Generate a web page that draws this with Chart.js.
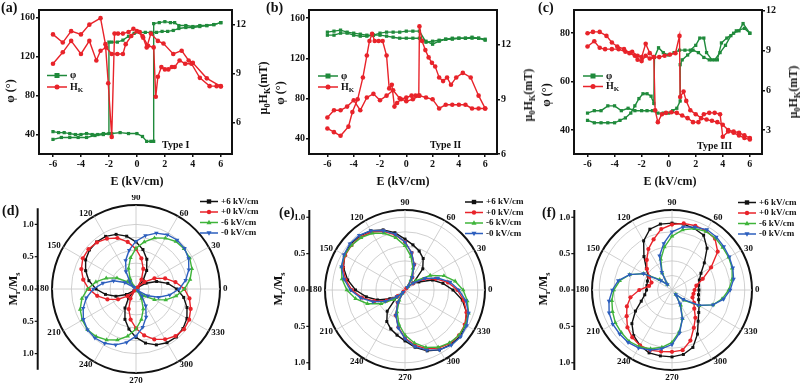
<!DOCTYPE html>
<html>
<head>
<meta charset="utf-8">
<script src="https://cdn.jsdelivr.net/npm/chart.js@4.4.0/dist/chart.umd.min.js"></script>
<style>
  body { margin: 0; background: #fff; }
  #fig { position: relative; width: 800px; height: 383px; overflow: hidden;
         font-family: "Liberation Serif", "Times New Roman", serif; font-weight: bold; color: #111; }
  canvas { position: absolute; }
  .lbl { position: absolute; white-space: nowrap; line-height: 1; }
  .rot { transform: translate(-50%, -50%) rotate(-90deg); }
  .ctr { transform: translate(-50%, -50%); }
  .pan { font-size: 14px; }
  .ttl { font-size: 12px; }
  .typ { font-size: 10px; }
  sub { font-size: 70%; vertical-align: -0.3em; line-height: 0; }
</style>
</head>
<body>
<div id="fig">
  <canvas id="ca" width="268" height="196" style="left:0;top:0"></canvas>
  <canvas id="cb" width="265" height="196" style="left:268px;top:0"></canvas>
  <canvas id="cc" width="267" height="196" style="left:533px;top:0"></canvas>
  <canvas id="cd" width="265" height="188" style="left:0;top:195px"></canvas>
  <canvas id="ce" width="265" height="188" style="left:268px;top:195px"></canvas>
  <canvas id="cf" width="267" height="188" style="left:533px;top:195px"></canvas>

  <div class="lbl pan" style="left:1px;top:1px">(a)</div>
  <div class="lbl pan" style="left:266px;top:1px">(b)</div>
  <div class="lbl pan" style="left:538px;top:1px">(c)</div>
  <div class="lbl pan" style="left:2px;top:204px">(d)</div>
  <div class="lbl pan" style="left:279px;top:206px">(e)</div>
  <div class="lbl pan" style="left:542px;top:206px">(f)</div>

  <div class="lbl ttl ctr" style="left:137px;top:181px">E (kV/cm)</div>
  <div class="lbl ttl ctr" style="left:403px;top:181px">E (kV/cm)</div>
  <div class="lbl ttl ctr" style="left:670px;top:181px">E (kV/cm)</div>

  <div class="lbl ttl rot" style="left:10px;top:91px">φ (°)</div>
  <div class="lbl ttl rot" style="left:280px;top:93px">φ (°)</div>
  <div class="lbl ttl rot" style="left:546px;top:95px">φ (°)</div>

  <div class="lbl ttl rot" style="left:263px;top:88px">μ<sub>0</sub>H<sub>K</sub>(mT)</div>
  <div class="lbl ttl rot" style="left:528px;top:95px">μ<sub>0</sub>H<sub>K</sub>(mT)</div>
  <div class="lbl ttl rot" style="left:793px;top:92px">μ<sub>0</sub>H<sub>K</sub>(mT)</div>

  <div class="lbl ttl rot" style="left:13px;top:289px">M<sub>r</sub>/M<sub>s</sub></div>
  <div class="lbl ttl rot" style="left:278px;top:289px">M<sub>r</sub>/M<sub>s</sub></div>
  <div class="lbl ttl rot" style="left:543px;top:289px">M<sub>r</sub>/M<sub>s</sub></div>

  <div class="lbl typ" style="left:162px;top:140px">Type I</div>
  <div class="lbl typ" style="left:430px;top:140px">Type II</div>
  <div class="lbl typ" style="left:697px;top:141px">Type III</div>
</div>

<script>
// ---- top row: E sweeps (kV/cm), easy axis angle phi (deg), anisotropy field HK (mT) ----
const aPhiDownE = [6, 5.5, 5, 4.5, 4, 3.5, 3, 2.6, 2.2, 1.8, 1.4, 1, 0.6, 0.2, -0.2, -0.6, -1, -1.4, -1.8, -2, -2, -2.4, -2.8, -3.2, -3.6, -4, -4.4, -4.8, -5.2, -5.6, -6];
const aPhiDown = [155, 153, 152, 151, 150, 150, 149, 147, 146, 146, 145, 145, 145, 145, 144, 141, 137, 135, 135, 135, 41, 41, 40, 40, 41, 40, 40, 41, 42, 42, 43];
const aPhiUpE = [-6, -5.4, -4.8, -4.2, -3.6, -3, -2.4, -1.8, -1.2, -0.6, 0, 0.4, 0.7, 1, 1.2, 1.2, 1.6, 2, 2.4, 2.7, 3, 3.5, 4, 4.5, 5, 5.5, 6];
const aPhiUp = [35, 37, 37, 37, 37, 39, 40, 41, 42, 41, 41, 38, 33, 33, 33, 154, 155, 156, 155, 155, 152, 152, 151, 152, 152, 153, 155];
const aHkDownE = [6, 5, 4, 3.7, 3.2, 2.6, 1.9, 1.5, 1, 0.7, 0.45, 0.2, -0.25, -0.6, -1, -1.35, -1.6, -1.8, -2.05, -2.25, -2.6, -3.4, -4, -4.7, -5.3, -6];
const aHkDown = [8.2, 8.7, 9.65, 9.8, 10.4, 10.2, 10.84, 11.0, 11.45, 10.6, 11.2, 11.55, 11.75, 11.55, 11.45, 11.45, 11.45, 5.1, 8.4, 10.8, 12.4, 12.0, 11.4, 11.6, 10.9, 11.4];
const aHkUpE = [-6, -5.3, -4.7, -4, -3.4, -2.9, -2.6, -2.2, -1.8, -1.4, -1, -0.8, -0.4, 0, 0.4, 0.8, 1.2, 1.35, 1.5, 1.75, 2, 2.25, 2.5, 2.7, 3.05, 3.45, 3.9, 4.5, 5.2, 5.7, 6];
const aHkUp = [9.6, 10.3, 11.0, 10.2, 11.0, 9.8, 10.4, 10.6, 10.2, 10.2, 10.2, 10.8, 11.3, 11.6, 11.3, 10.7, 10.6, 7.57, 8.8, 9.4, 9.25, 9.25, 9.4, 9.4, 9.8, 9.6, 9.6, 8.73, 8.22, 8.22, 8.22];

const bPhiUpE = [-6, -5.5, -5, -4.5, -4, -3.5, -3, -2.5, -2, -1.5, -1, -0.5, 0, 0.5, 1, 1.5, 2, 2.5, 3, 3.5, 4, 4.5, 5, 5.5, 6];
const bPhiUp = [146, 147, 148, 146, 145, 144, 143, 143, 143, 142, 141, 140, 140, 140, 140, 137, 134, 137, 139, 140, 140, 140, 141, 140, 138];
const bPhiDownE = [6, 5.5, 5, 4.5, 4, 3.5, 3, 2.5, 2, 1.5, 1, 0.5, 0, -0.5, -1, -1.5, -2, -2.5, -3, -3.5, -4, -4.5, -5, -5.5, -6];
const bPhiDown = [139, 140, 140, 140, 140, 139, 139, 138, 137, 136, 147, 147, 147, 146, 146, 146, 145, 143, 142, 142, 143, 145, 145, 143, 143];
const bHkUpE = [-6, -5.5, -5, -4.4, -4.1, -3.7, -3.3, -3.0, -2.8, -2.6, -2.4, -2.1, -1.8, -1.5, -1.3, -1.1, -0.9, -0.7, -0.4, 0, 0.4, 0.7, 0.95, 1.0, 1.2, 1.45, 1.7, 1.95, 2.2, 2.5, 2.8, 3.1, 3.4, 3.8, 4.3, 4.9, 5.5, 6];
const bHkUp = [7.4, 7.2, 7.0, 7.5, 8.3, 9.0, 10.2, 11.4, 12.2, 12.6, 12.2, 12.2, 12.2, 11.4, 9.6, 9.8, 8.6, 8.8, 9.0, 9.1, 9.2, 9.2, 9.2, 13.0, 12.2, 11.7, 11.3, 11.0, 10.8, 10.2, 10.0, 10.2, 9.8, 10.2, 10.45, 10.2, 9.2, 8.5];
const bHkDownE = [6, 5.5, 5, 4.5, 4, 3.5, 3, 2.5, 2, 1.5, 1, 0.5, 0, -0.5, -1, -1.5, -2, -2.5, -3, -3.5, -4, -4.5, -5, -5.5, -6];
const bHkDown = [8.5, 8.5, 8.5, 8.7, 8.7, 8.7, 8.7, 8.5, 9.0, 9.1, 9.2, 9.0, 8.9, 9.05, 9.5, 9.2, 8.95, 9.3, 9.1, 8.4, 8.95, 8.6, 8.4, 8.4, 8.0];

const cPhiUpE = [-6, -5.5, -5, -4.5, -4, -3.6, -3.2, -2.8, -2.5, -2.2, -1.9, -1.6, -1.3, -1.1, -1.05, -0.75, -0.4, 0, 0.4, 0.8, 1.2, 1.6, 2.0, 2.3, 2.6, 2.8, 3.2, 3.6, 3.9, 4.3, 4.8, 5.2, 5.5, 6];
const cPhiUp = [44, 43, 43, 43, 43, 44, 45, 47, 50, 53, 55, 55, 54, 51, 70, 74, 72, 71, 72, 73, 73, 73, 75, 78, 78, 72, 69, 69, 76, 78, 80, 81, 84, 80];
const cPhiDownE = [6, 5.6, 5, 4.6, 4.2, 3.8, 3.4, 3.0, 2.6, 2.2, 1.8, 1.4, 1.0, 0.85, 0.85, 0.6, 0.3, 0, -0.4, -0.8, -1.2, -1.6, -2, -2.5, -3, -3.5, -4, -4.5, -5, -5.5, -6];
const cPhiDown = [80, 82, 81, 79, 75, 72, 69, 69, 70, 72, 73, 71, 69, 67, 52, 49, 48, 47, 47, 47, 48, 48, 48, 48, 49, 48, 50, 50, 48, 48, 47];
const cHkUpE = [-6, -5.6, -5.1, -4.6, -4.2, -3.8, -3.3, -2.9, -2.5, -2.3, -2.0, -1.7, -1.4, -1.1, -0.7, -0.3, 0.1, 0.5, 0.8, 0.85, 1.1, 1.3, 1.6, 2.0, 2.4, 2.8, 3.2, 3.6, 4.0, 4.4, 4.8, 5.2, 5.6, 6];
const cHkUp = [10.3, 10.4, 10.4, 10.1, 9.6, 9.3, 9.1, 8.8, 8.6, 8.3, 8.2, 8.6, 8.4, 8.5, 8.5, 8.6, 8.7, 8.8, 10.1, 5.5, 5.9, 5.2, 4.5, 4.2, 3.9, 3.8, 3.7, 3.6, 3.4, 3.0, 2.9, 2.8, 2.6, 2.4];
const cHkDownE = [6, 5.6, 5.2, 4.8, 4.4, 4.0, 3.8, 3.4, 3.0, 2.6, 2.2, 1.8, 1.4, 1.0, 0.6, 0.2, -0.2, -0.5, -0.8, -1.0, -1.1, -1.4, -1.7, -2.0, -2.3, -2.7, -3.2, -3.7, -4.2, -4.7, -5.1, -5.5, -6];
const cHkDown = [2.3, 2.4, 2.6, 2.8, 2.9, 2.5, 4.2, 4.3, 4.3, 4.2, 3.6, 3.6, 3.9, 4.1, 4.3, 4.35, 4.3, 4.2, 3.6, 4.5, 8.5, 8.8, 9.5, 8.5, 8.6, 8.9, 8.9, 9.1, 9.1, 9.1, 9.2, 9.7, 9.3];

// ---- bottom row: Mr/Ms against in-plane angle (deg) ----
const angles = [0, 10, 20, 30, 40, 50, 60, 70, 80, 90, 100, 110, 120, 130, 140, 150, 160, 170,
                180, 190, 200, 210, 220, 230, 240, 250, 260, 270, 280, 290, 300, 310, 320, 330, 340, 350];
const fieldLabels = ["+6 kV/cm", "+0 kV/cm", "-6 kV/cm", "-0 kV/cm"];
const polarTicks = [1, 0.5, 0, -0.5, -1];

const dP6 = [0.63, 0.5, 0.34, 0.18, 0.04, 0.17, 0.33, 0.49, 0.62, 0.73, 0.83, 0.9, 0.94, 0.95, 0.94, 0.9, 0.83, 0.74, 0.62, 0.48, 0.33, 0.17, 0.04, 0.18, 0.34, 0.5, 0.63, 0.75, 0.85, 0.92, 0.96, 0.97, 0.95, 0.91, 0.84, 0.75];
const dP0 = [0.75, 0.62, 0.48, 0.33, 0.17, 0.03, 0.17, 0.33, 0.48, 0.62, 0.74, 0.84, 0.9, 0.94, 0.96, 0.95, 0.9, 0.83, 0.73, 0.61, 0.47, 0.32, 0.17, 0.03, 0.17, 0.33, 0.48, 0.61, 0.73, 0.83, 0.9, 0.95, 0.97, 0.95, 0.9, 0.84];
const dM6 = [0.75, 0.85, 0.92, 0.96, 0.97, 0.96, 0.91, 0.84, 0.74, 0.63, 0.49, 0.34, 0.18, 0.05, 0.17, 0.34, 0.49, 0.63, 0.75, 0.85, 0.92, 0.96, 0.98, 0.96, 0.91, 0.84, 0.74, 0.62, 0.48, 0.33, 0.17, 0.04, 0.17, 0.33, 0.49, 0.63];
const dM0 = [0.67, 0.78, 0.87, 0.94, 0.98, 0.99, 0.97, 0.92, 0.84, 0.74, 0.61, 0.47, 0.31, 0.15, 0.04, 0.2, 0.37, 0.52, 0.66, 0.78, 0.87, 0.94, 0.98, 0.99, 0.97, 0.92, 0.84, 0.73, 0.6, 0.46, 0.3, 0.14, 0.04, 0.21, 0.37, 0.53];

const eP6 = [0.66, 0.53, 0.4, 0.22, 0.15, 0.38, 0.5, 0.57, 0.63, 0.7, 0.8, 0.88, 0.94, 0.97, 0.98, 0.96, 0.9, 0.8, 0.68, 0.54, 0.4, 0.24, 0.15, 0.38, 0.5, 0.57, 0.63, 0.7, 0.8, 0.89, 0.95, 0.98, 0.99, 0.96, 0.9, 0.8];
const eP0 = [0.72, 0.6, 0.45, 0.3, 0.14, 0.03, 0.2, 0.37, 0.52, 0.66, 0.77, 0.86, 0.92, 0.95, 0.96, 0.95, 0.91, 0.83, 0.73, 0.6, 0.45, 0.29, 0.13, 0.03, 0.2, 0.37, 0.52, 0.66, 0.77, 0.86, 0.92, 0.96, 0.97, 0.95, 0.9, 0.82];
const eM6 = [0.8, 0.7, 0.57, 0.4, 0.2, 0.06, 0.16, 0.32, 0.47, 0.61, 0.73, 0.83, 0.9, 0.94, 0.96, 0.96, 0.93, 0.88, 0.8, 0.69, 0.55, 0.38, 0.2, 0.06, 0.16, 0.32, 0.48, 0.62, 0.74, 0.84, 0.91, 0.95, 0.97, 0.96, 0.93, 0.87];
const eM0 = [0.74, 0.63, 0.48, 0.32, 0.15, 0.05, 0.2, 0.37, 0.52, 0.66, 0.78, 0.87, 0.94, 0.98, 0.99, 0.97, 0.93, 0.85, 0.75, 0.62, 0.47, 0.31, 0.14, 0.04, 0.2, 0.37, 0.53, 0.67, 0.79, 0.88, 0.95, 0.99, 1.0, 0.98, 0.93, 0.85];

const fP6 = [0.37, 0.37, 0.4, 0.46, 0.58, 0.75, 0.87, 0.9, 0.92, 0.92, 0.92, 0.89, 0.78, 0.6, 0.46, 0.38, 0.36, 0.35, 0.35, 0.38, 0.45, 0.58, 0.72, 0.82, 0.88, 0.92, 0.92, 0.92, 0.9, 0.84, 0.7, 0.56, 0.48, 0.43, 0.39, 0.37];
const fP0 = [0.31, 0.34, 0.45, 0.62, 0.82, 0.92, 0.94, 0.94, 0.93, 0.9, 0.85, 0.74, 0.65, 0.54, 0.45, 0.36, 0.3, 0.32, 0.45, 0.58, 0.66, 0.72, 0.8, 0.85, 0.88, 0.88, 0.86, 0.85, 0.84, 0.74, 0.6, 0.5, 0.4, 0.35, 0.3, 0.3];
const fM6 = [0.78, 0.84, 0.88, 0.9, 0.91, 0.93, 0.93, 0.9, 0.84, 0.74, 0.6, 0.45, 0.27, 0.1, 0.22, 0.45, 0.62, 0.73, 0.8, 0.84, 0.87, 0.9, 0.91, 0.92, 0.9, 0.86, 0.8, 0.72, 0.58, 0.42, 0.24, 0.08, 0.22, 0.43, 0.6, 0.7];
const fM0 = [0.8, 0.86, 0.89, 0.91, 0.93, 0.95, 0.96, 0.92, 0.88, 0.8, 0.65, 0.5, 0.28, 0.1, 0.2, 0.45, 0.62, 0.75, 0.82, 0.88, 0.92, 0.94, 0.94, 0.94, 0.92, 0.88, 0.82, 0.75, 0.6, 0.42, 0.22, 0.08, 0.2, 0.42, 0.6, 0.72];

const GREEN = "#1f8a3b", RED = "#e8232a", BLUE = "#2d5fbe", BLACK = "#111111", GRID = "#c4c4c4";
const serif = '"Liberation Serif", "Times New Roman", serif';
Chart.defaults.font.family = serif;
Chart.defaults.font.weight = "bold";
Chart.defaults.color = "#111";

function marker(ctx, style, x, y, r, flip) {
  ctx.beginPath();
  if (style === "rect") ctx.rect(x - r, y - r, 2 * r, 2 * r);
  else if (style === "circle") ctx.arc(x, y, r, 0, Math.PI * 2);
  else {
    const s = flip ? -1 : 1;
    ctx.moveTo(x, y - s * r * 1.2);
    ctx.lineTo(x + r * 1.15, y + s * r * 0.8);
    ctx.lineTo(x - r * 1.15, y + s * r * 0.8);
    ctx.closePath();
  }
  ctx.fill();
}

// small legend: line + marker + label (label may carry a subscript)
function legendPlugin(cfg) {
  return {
    id: "miniLegend",
    afterDraw(chart) {
      const ctx = chart.ctx;
      ctx.save();
      cfg.items.forEach((it, i) => {
        const y = cfg.y + i * cfg.dy;
        ctx.strokeStyle = it.color;
        ctx.fillStyle = it.color;
        ctx.lineWidth = 1.5;
        ctx.beginPath();
        ctx.moveTo(cfg.x, y);
        ctx.lineTo(cfg.x + cfg.len, y);
        ctx.stroke();
        marker(ctx, it.style, cfg.x + cfg.len / 2, y, cfg.r, it.flip);
        ctx.fillStyle = "#111";
        ctx.font = "bold " + cfg.size + "px " + serif;
        ctx.textAlign = "left";
        ctx.textBaseline = "middle";
        let tx = cfg.x + cfg.len + 3;
        ctx.fillText(it.text, tx, y);
        if (it.sub) {
          tx += ctx.measureText(it.text).width;
          ctx.font = "bold " + Math.round(cfg.size * 0.65) + "px " + serif;
          ctx.fillText(it.sub, tx, y + cfg.size * 0.3);
        }
      });
      ctx.restore();
    }
  };
}

// box around the plot area
const framePlugin = {
  id: "frame",
  afterDraw(chart) {
    const { ctx, chartArea: a } = chart;
    ctx.save();
    ctx.strokeStyle = "#111";
    ctx.lineWidth = 2;
    ctx.strokeRect(a.left, a.top, a.right - a.left, a.bottom - a.top);
    ctx.restore();
  }
};

function axisOpts(pos, min, max, step, size) {
  return {
    type: "linear", position: pos, min: min, max: max,
    ticks: { stepSize: step, includeBounds: false, padding: 1, maxRotation: 0, autoSkip: false,
             font: { size: 10, weight: "bold" }, color: "#111" },
    grid: { display: true, drawOnChartArea: false, drawTicks: true, tickLength: 3, color: "#111", lineWidth: 1.5 },
    border: { display: true, color: "#111", width: 2 },
    afterFit: function (s) { if (pos === "bottom") s.height = size; else s.width = size; }
  };
}

function lineSet(xs, ys, color, style, axis, ord) {
  return {
    data: xs.map((x, i) => ({ x: x, y: ys[i] })),
    borderColor: color, backgroundColor: color,
    pointBackgroundColor: color, pointBorderColor: color,
    pointStyle: style, pointRadius: 2.3, pointBorderWidth: 0,
    borderWidth: 1.4, yAxisID: axis, order: ord, tension: 0
  };
}

function topChart(id, pad, xr, yr, y1r, sets, leg) {
  new Chart(document.getElementById(id), {
    type: "line",
    data: { datasets: sets },
    options: {
      responsive: false, animation: false,
      layout: { padding: pad },
      plugins: { legend: { display: false }, tooltip: { enabled: false } },
      scales: {
        x: axisOpts("bottom", xr[0], xr[1], 2, 22),
        y: axisOpts("left", yr[0], yr[1], yr[2], 26),
        y1: axisOpts("right", y1r[0], y1r[1], 3, 28)
      }
    },
    plugins: [framePlugin, legendPlugin({
      x: leg.x, y: leg.y, dy: leg.dy, len: 20, r: 2.5, size: 10,
      items: [
        { text: "φ", color: GREEN, style: "rect" },
        { text: "H", sub: "K", color: RED, style: "circle" }
      ]
    })]
  });
}

topChart("ca", { left: 13, right: 8, top: 10, bottom: 20 }, [-7, 6.8], [20, 168, 40], [4.05, 12.9], [
  lineSet(aHkDownE, aHkDown, RED, "circle", "y1", 0),
  lineSet(aHkUpE, aHkUp, RED, "circle", "y1", 0),
  lineSet(aPhiDownE, aPhiDown, GREEN, "rect", "y", 1),
  lineSet(aPhiUpE, aPhiUp, GREEN, "rect", "y", 1)
], { x: 47, y: 75.5, dy: 11.5 });

topChart("cb", { left: 15, right: 8, top: 10, bottom: 20 }, [-7.4, 6.9], [25, 168, 40], [6, 13.9], [
  lineSet(bHkUpE, bHkUp, RED, "circle", "y1", 0),
  lineSet(bHkDownE, bHkDown, RED, "circle", "y1", 0),
  lineSet(bPhiUpE, bPhiUp, GREEN, "rect", "y", 1),
  lineSet(bPhiDownE, bPhiDown, GREEN, "rect", "y", 1)
], { x: 50, y: 76, dy: 11 });

topChart("cc", { left: 15, right: 10, top: 10, bottom: 20 }, [-7, 6.9], [30.1, 89.6, 20], [1.2, 12.05], [
  lineSet(cHkUpE, cHkUp, RED, "circle", "y1", 0),
  lineSet(cHkDownE, cHkDown, RED, "circle", "y1", 0),
  lineSet(cPhiUpE, cPhiUp, GREEN, "rect", "y", 1),
  lineSet(cPhiDownE, cPhiDown, GREEN, "rect", "y", 1)
], { x: 50, y: 76, dy: 10.5 });

// radar runs clockwise from startAngle; reorder so angles grow counter-clockwise from 3 o'clock
const order = angles.map((_, i) => (angles.length - i) % angles.length);
const radarLabels = order.map(k => angles[k]);
const toRadar = vals => order.map(k => vals[k]);

// angle labels every 30 deg, plus the vertical Mr/Ms axis on the left
function polarDecor(cfg) {
  return {
    id: "polarDecor",
    afterDraw(chart) {
      const s = chart.scales.r, ctx = chart.ctx;
      ctx.save();
      ctx.fillStyle = "#111";
      ctx.font = "bold 9px " + serif;
      chart.data.labels.forEach((deg, i) => {
        if (deg % 30) return;
        const p = s.getPointPosition(i, s.drawingArea + 3);
        const c = Math.cos(deg * Math.PI / 180), sn = Math.sin(deg * Math.PI / 180);
        ctx.textAlign = Math.abs(c) < 0.2 ? "center" : (c > 0 ? "left" : "right");
        ctx.textBaseline = Math.abs(sn) > 0.9 ? (sn > 0 ? "bottom" : "top") : "middle";
        ctx.fillText(String(deg), p.x, p.y);
      });
      const x = cfg.axisX, yc = s.yCenter;
      const L = s.getDistanceFromCenterForValue(cfg.lineMax);
      ctx.strokeStyle = "#111";
      ctx.lineWidth = 2;
      ctx.beginPath();
      ctx.moveTo(x, yc - L);
      ctx.lineTo(x, yc + L);
      ctx.stroke();
      ctx.lineWidth = 1.2;
      ctx.textAlign = "right";
      ctx.textBaseline = "middle";
      polarTicks.forEach(v => {
        const y = yc - Math.sign(v) * s.getDistanceFromCenterForValue(Math.abs(v));
        ctx.beginPath();
        ctx.moveTo(x - 3, y);
        ctx.lineTo(x, y);
        ctx.stroke();
        ctx.fillText(Math.abs(v).toFixed(1), x - 4, y);
      });
      ctx.restore();
    }
  };
}

function polarSet(vals, color, style, rot, ord) {
  return {
    data: toRadar(vals), fill: false,
    borderColor: color, backgroundColor: color,
    pointBackgroundColor: color, pointBorderColor: color, pointBorderWidth: 0,
    pointStyle: style, pointRotation: rot, pointRadius: style === "triangle" ? 2.6 : 2.1,
    borderWidth: 1.4, tension: 0, order: ord
  };
}

function polarChart(id, pad, rMax, series, axisX, lineMax, leg) {
  new Chart(document.getElementById(id), {
    type: "radar",
    data: {
      labels: radarLabels,
      datasets: [
        polarSet(series[0], BLACK, "rect", 0, 3),
        polarSet(series[1], RED, "circle", 0, 2),
        polarSet(series[2], "#3fb43a", "triangle", 0, 1),
        polarSet(series[3], BLUE, "triangle", 180, 0)
      ]
    },
    options: {
      responsive: false, animation: false,
      layout: { padding: pad },
      plugins: { legend: { display: false }, tooltip: { enabled: false } },
      scales: {
        r: {
          min: 0, max: rMax, startAngle: 90,
          ticks: { display: false, stepSize: 0.2 },
          pointLabels: { display: false },
          grid: {
            circular: true,
            color: c => (c.tick && c.tick.value >= rMax - 1e-6 ? "#111" : GRID),
            lineWidth: c => (c.tick && c.tick.value >= rMax - 1e-6 ? 2 : 0.8)
          },
          angleLines: {
            color: GRID,
            lineWidth: c => (radarLabels[c.index] % 30 === 0 ? 0.8 : 0)
          }
        }
      }
    },
    plugins: [polarDecor({ axisX: axisX, lineMax: lineMax }), legendPlugin({
      x: leg.x, y: leg.y, dy: 10.5, len: 18, r: 2.2, size: 9,
      items: [
        { text: fieldLabels[0], color: BLACK, style: "rect" },
        { text: fieldLabels[1], color: RED, style: "circle" },
        { text: fieldLabels[2], color: "#3fb43a", style: "triangle" },
        { text: fieldLabels[3], color: BLUE, style: "triangle", flip: true }
      ]
    })]
  });
}

polarChart("cd", { left: 52, right: 45, top: 10, bottom: 10 }, 1.3, [dP6, dP0, dM6, dM0], 37.7, 1.25, { x: 200, y: 6.5 });
polarChart("ce", { left: 57, right: 48, top: 15, bottom: 13 }, 1.1, [eP6, eP0, eM6, eM0], 41.3, 1.1, { x: 197, y: 7 });
polarChart("cf", { left: 59, right: 48, top: 15, bottom: 13 }, 1.1, [fP6, fP0, fM6, fM0], 41.3, 1.1, { x: 205, y: 7.5 });
</script>
</body>
</html>
